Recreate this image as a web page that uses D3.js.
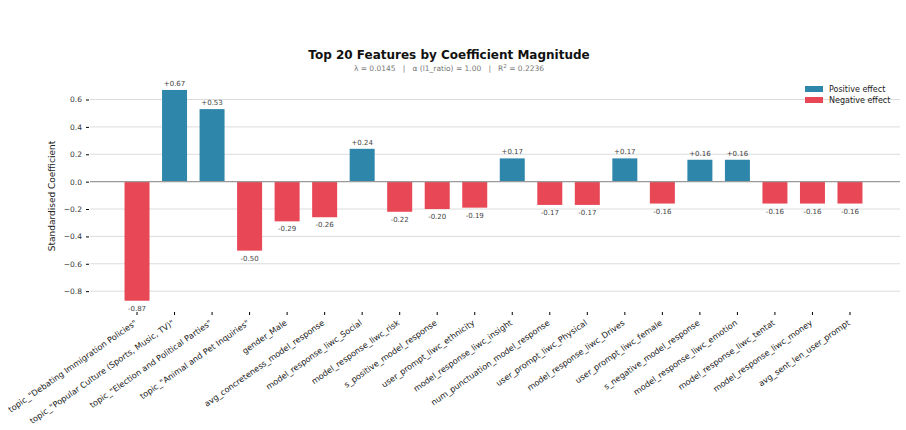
<!DOCTYPE html>
<html>
<head>
<meta charset="utf-8">
<script src="https://cdn.jsdelivr.net/npm/d3@7"></script>
<style>
  body { margin: 0; background: #fff; }
  text { font-family: "DejaVu Sans", sans-serif; }
</style>
</head>
<body>
<div id="chart"></div>
<script>
// data
var features = [
  'topic_"Debating Immigration Policies"',
  'topic_"Popular Culture (Sports, Music, TV)"',
  'topic_"Election and Political Parties"',
  'topic_"Animal and Pet Inquiries"',
  'gender_Male',
  'avg_concreteness_model_response',
  'model_response_liwc_Social',
  'model_response_liwc_risk',
  's_positive_model_response',
  'user_prompt_liwc_ethnicity',
  'model_response_liwc_insight',
  'num_punctuation_model_response',
  'user_prompt_liwc_Physical',
  'model_response_liwc_Drives',
  'user_prompt_liwc_female',
  's_negative_model_response',
  'model_response_liwc_emotion',
  'model_response_liwc_tentat',
  'model_response_liwc_money',
  'avg_sent_len_user_prompt'
]
var coefs = [-0.87, 0.67, 0.53, -0.504, -0.29, -0.26, 0.24, -0.22, -0.20, -0.19,
             0.17, -0.17, -0.17, 0.17, -0.16, 0.16, 0.16, -0.16, -0.16, -0.16]
var yTicks = [-0.8, -0.6, -0.4, -0.2, 0.0, 0.2, 0.4, 0.6]
var legendItems = ["Positive effect", "Negative effect"]

var W = 906, H = 430
var plot = {left: 90, right: 897, top: 79, bottom: 311}
var posColor = "#2E86AB", negColor = "#E84855"

var svg = d3.select("#chart").append("svg")
  .attr("width", W).attr("height", H)

// scales
var x = d3.scaleBand()
  .domain(features)
  .range([plot.left, plot.right])
  .paddingInner(0.334)
  .paddingOuter(0.92)

var y = d3.scaleLinear()
  .domain([-0.945, 0.75])
  .range([plot.bottom, plot.top])

// grid
svg.append("g").selectAll("line")
  .data(yTicks.filter(function (d) { return d !== 0 }))
  .enter().append("line")
  .attr("x1", plot.left).attr("x2", plot.right + 3)
  .attr("y1", function (d) { return y(d) }).attr("y2", function (d) { return y(d) })
  .attr("stroke", "#dcdcdc").attr("stroke-width", 1)

// bars
svg.append("g").selectAll("rect")
  .data(coefs)
  .enter().append("rect")
  .attr("x", function (d, i) { return x(features[i]) })
  .attr("width", x.bandwidth())
  .attr("y", function (d) { return y(Math.max(0, d)) })
  .attr("height", function (d) { return Math.abs(y(d) - y(0)) })
  .attr("fill", function (d) { return d > 0 ? posColor : negColor })

// zero line
svg.append("line")
  .attr("x1", plot.left).attr("x2", plot.right + 3)
  .attr("y1", y(0)).attr("y2", y(0))
  .attr("stroke", "#999").attr("stroke-width", 1.2)

// value labels
svg.append("g").selectAll("text")
  .data(coefs)
  .enter().append("text")
  .attr("x", function (d, i) { return x(features[i]) + x.bandwidth() / 2 })
  .attr("y", function (d) { return d > 0 ? y(d) - 4 : y(d) + 10 })
  .attr("text-anchor", "middle")
  .attr("font-size", 7)
  .attr("fill", "#444")
  .text(function (d) { return (d > 0 ? "+" : "") + d.toFixed(2) })

// y axis
var yAxis = svg.append("g")
  .attr("transform", "translate(" + (plot.left - 1) + ",0)")
  .call(d3.axisLeft(y).tickValues(yTicks).tickSize(3).tickPadding(4)
    .tickFormat(function (d) { return d3.format(".1f")(d).replace("-", "\u2212") }))
yAxis.select(".domain").remove()
yAxis.selectAll("text").attr("font-size", 7.5).attr("fill", "#333")
  .style("font-family", "DejaVu Sans")

// x axis
var xAxis = svg.append("g")
  .attr("transform", "translate(0," + (plot.bottom + 1) + ")")
  .call(d3.axisBottom(x).tickSize(3).tickPadding(3))
xAxis.select(".domain").remove()
xAxis.selectAll("text")
  .attr("font-size", 8.2)
  .attr("fill", "#222")
  .style("font-family", "DejaVu Sans")
  .attr("text-anchor", "end")
  .attr("x", 0)
  .attr("y", 0)
  .attr("dy", "0.75em")
  .attr("transform", "translate(-3,7) rotate(-35)")

// axis label
svg.append("text")
  .attr("transform", "translate(55,196) rotate(-90)")
  .attr("text-anchor", "middle")
  .attr("font-size", 9)
  .attr("fill", "#222")
  .text("Standardised Coefficient")

// title
svg.append("text")
  .attr("x", 449).attr("y", 59)
  .attr("text-anchor", "middle")
  .attr("font-size", 12).attr("font-weight", "bold")
  .attr("fill", "#111")
  .text("Top 20 Features by Coefficient Magnitude")

var sub = svg.append("text")
  .attr("x", 449).attr("y", 71)
  .attr("text-anchor", "middle")
  .attr("font-size", 7.5)
  .attr("fill", "#777")
  .style("white-space", "pre")
sub.append("tspan").text("\u03bb = 0.0145   |   \u03b1 (l1_ratio) = 1.00   |   R")
sub.append("tspan").attr("font-size", 5.5).attr("dy", -3).text("2")
sub.append("tspan").attr("dy", 3).text(" = 0.2236")

// legend
var leg = svg.append("g").attr("transform", "translate(805,86)")
leg.selectAll("rect").data(legendItems).enter().append("rect")
  .attr("x", 0).attr("y", function (d, i) { return i * 11 })
  .attr("width", 18).attr("height", 6)
  .attr("fill", function (d, i) { return i === 0 ? posColor : negColor })
leg.selectAll("text").data(legendItems).enter().append("text")
  .attr("x", 24).attr("y", function (d, i) { return i * 11 + 6 })
  .attr("font-size", 8).attr("fill", "#222")
  .text(function (d) { return d })
</script>
</body>
</html>
